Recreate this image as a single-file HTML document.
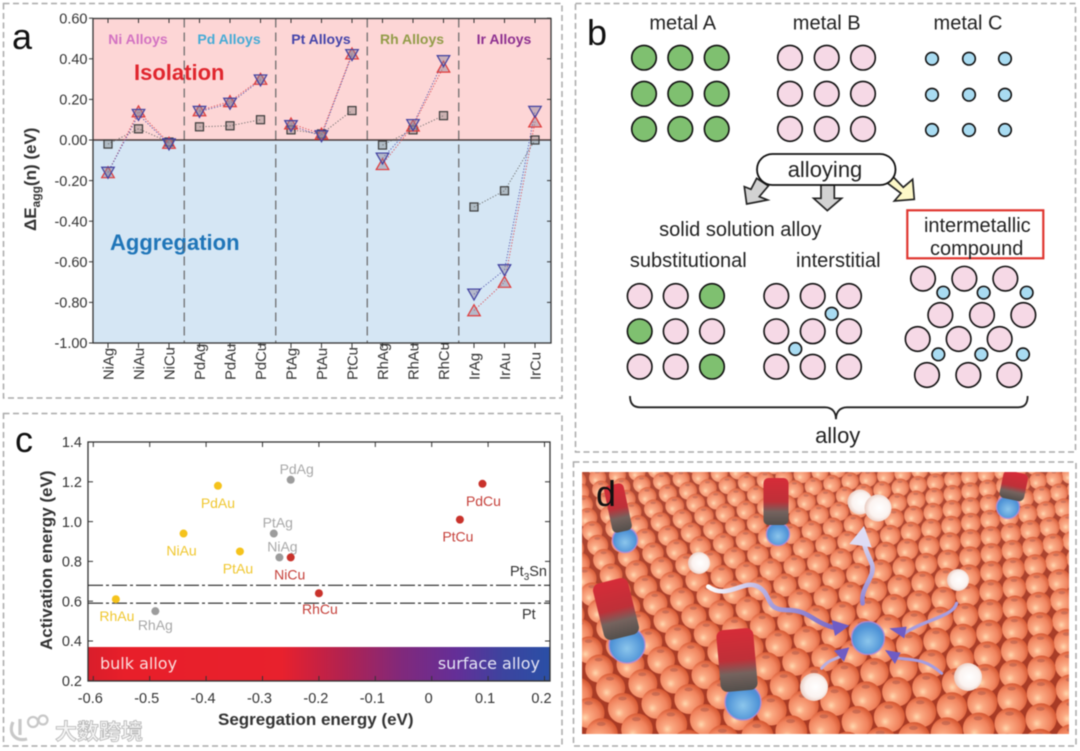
<!DOCTYPE html>
<html lang="en">
<head>
<meta charset="utf-8">
<title>Alloy figure</title>
<style>
html,body{margin:0;padding:0;background:#fff;width:1080px;height:751px;overflow:hidden;}
svg{display:block;font-family:"Liberation Sans","Noto Sans CJK SC",sans-serif;filter:blur(0.55px);}
</style>
</head>
<body>
<svg id="fig" xmlns="http://www.w3.org/2000/svg" width="1080" height="751" viewBox="0 0 1080 751">
<defs>
<linearGradient id="barGrad" x1="0" x2="1" y1="0" y2="0">
<stop offset="0" stop-color="#d91e2b"/><stop offset="0.08" stop-color="#e81f2a"/><stop offset="0.42" stop-color="#e8212d"/><stop offset="0.55" stop-color="#b3224f"/><stop offset="0.68" stop-color="#80297c"/><stop offset="0.8" stop-color="#632f98"/><stop offset="0.9" stop-color="#3c449f"/><stop offset="1" stop-color="#2a4fa6"/>
</linearGradient>
<radialGradient id="atom" cx="0.42" cy="0.6" r="0.62" fx="0.36" fy="0.66">
<stop offset="0" stop-color="#ffd8ae"/><stop offset="0.25" stop-color="#fba982"/><stop offset="0.7" stop-color="#f0825c"/><stop offset="1" stop-color="#d4552f"/>
</radialGradient>
<linearGradient id="paleOverlay" x1="0" x2="0" y1="0" y2="1">
<stop offset="0" stop-color="#fff" stop-opacity="0.08"/><stop offset="0.6" stop-color="#fff" stop-opacity="0.02"/><stop offset="1" stop-color="#fff" stop-opacity="0"/>
</linearGradient>
<radialGradient id="blueAtom" cx="0.5" cy="0.6" r="0.6">
<stop offset="0" stop-color="#8cc6ec"/><stop offset="0.75" stop-color="#4f93d6"/><stop offset="1" stop-color="#5f84cc"/>
</radialGradient>
<radialGradient id="whiteAtom" cx="0.55" cy="0.5" r="0.6">
<stop offset="0" stop-color="#ffffff"/><stop offset="0.6" stop-color="#fbf3f0"/><stop offset="1" stop-color="#e4c0b4"/>
</radialGradient>
<linearGradient id="cyl" x1="0" x2="0" y1="0" y2="1">
<stop offset="0" stop-color="#d62c38"/><stop offset="0.5" stop-color="#bf3038"/><stop offset="0.72" stop-color="#75635e"/><stop offset="1" stop-color="#544f4b"/>
</linearGradient>
<linearGradient id="flowA" gradientUnits="userSpaceOnUse" x1="415" y1="380" x2="830" y2="500">
<stop offset="0" stop-color="#ffffff"/><stop offset="0.45" stop-color="#a9a0dc"/><stop offset="1" stop-color="#6f5fc4"/>
</linearGradient>
<linearGradient id="flowB" gradientUnits="userSpaceOnUse" x1="880" y1="430" x2="880" y2="210">
<stop offset="0" stop-color="#8f84d4"/><stop offset="1" stop-color="#e6e6f6"/>
</linearGradient>
<clipPath id="dClip"><rect x="582" y="472" width="487" height="262"/></clipPath>
</defs>
<rect width="1080" height="751" fill="#fff"/>

<rect x="3.5" y="3.5" width="558.5" height="394.5" fill="none" stroke="#aaa" stroke-width="1.5" stroke-dasharray="6 3.5"/>
<rect x="3.5" y="413.5" width="558.5" height="332.5" fill="none" stroke="#aaa" stroke-width="1.5" stroke-dasharray="6 3.5"/>
<rect x="575.5" y="3.5" width="500" height="448.5" fill="none" stroke="#aaa" stroke-width="1.5" stroke-dasharray="6 3.5"/>
<rect x="573.5" y="462" width="502.5" height="284" fill="none" stroke="#aaa" stroke-width="1.5" stroke-dasharray="6 3.5"/>

<!-- Panel a -->
<g id="panelA">
<rect x="93" y="18.5" width="458" height="121.5" fill="#fdd6d6"/>
<rect x="93" y="140" width="458" height="203" fill="#d5e6f4"/>
<text x="134" y="80" font-size="22" font-weight="bold" fill="#e0262e">Isolation</text>
<text x="110" y="250" font-size="22" font-weight="bold" fill="#1f75b8">Aggregation</text>
<text x="138" y="44" font-size="14" font-weight="bold" fill="#d272c2" text-anchor="middle">Ni Alloys</text>
<text x="229" y="44" font-size="14" font-weight="bold" fill="#45abd6" text-anchor="middle">Pd Alloys</text>
<text x="321" y="44" font-size="14" font-weight="bold" fill="#4444aa" text-anchor="middle">Pt Alloys</text>
<text x="412" y="44" font-size="14" font-weight="bold" fill="#929c48" text-anchor="middle">Rh Alloys</text>
<text x="504" y="44" font-size="14" font-weight="bold" fill="#8d3090" text-anchor="middle">Ir Alloys</text>
<text x="12" y="49" font-size="36" fill="#111">a</text>
<text transform="translate(36 231) rotate(-90)" font-size="17" font-weight="bold" fill="#333">ΔE<tspan font-size="12" dy="4">agg</tspan><tspan dy="-4">(n) (eV)</tspan></text>
</g>

<!-- Panel c -->
<g id="panelC">
<rect x="88" y="647" width="462" height="34" fill="url(#barGrad)"/>
<text x="100" y="669" font-size="16" fill="#fbdcdc" style="font-family:'DejaVu Sans',sans-serif">bulk alloy</text>
<text x="540" y="669" font-size="16" text-anchor="end" fill="#e4e4f4" style="font-family:'DejaVu Sans',sans-serif">surface alloy</text>
<text x="15" y="452" font-size="36" fill="#111">c</text>
<text transform="translate(52 650) rotate(-90)" font-size="17" font-weight="bold" fill="#333">Activation energy (eV)</text>
<text x="218" y="725" font-size="17" font-weight="bold" fill="#333">Segregation energy (eV)</text>
<text x="510" y="576" font-size="14.5" fill="#333">Pt<tspan font-size="10" dy="4">3</tspan><tspan dy="-4">Sn</tspan></text>
<text x="522" y="619" font-size="14.5" fill="#333">Pt</text>
</g>

<!-- Panel b -->
<g id="panelB" fill="#222">
<text x="587" y="45" font-size="36" fill="#111">b</text>
<text x="682.7" y="29.5" font-size="20" text-anchor="middle">metal A</text>
<text x="826.7" y="29.5" font-size="20" text-anchor="middle">metal B</text>
<text x="968" y="29.5" font-size="20" text-anchor="middle">metal C</text>
<g transform="translate(575 0) scale(0.3333)" stroke="#222" stroke-width="5" stroke-linejoin="miter">
<polygon points="545,535 580,558 553,590 578,600 515,612 508,560 528,568" fill="#d2d2d2"/>
<polygon points="738,555 778,555 778,595 800,595 757,632 716,595 738,595" fill="#d2d2d2"/>
<polygon points="952,528 985,562 1013,538 1018,598 958,603 978,580 938,550" fill="#fdf8c8"/>
<path d="M165,1188 C165,1210 175,1222 195,1222 L750,1222 C770,1222 783,1235 783,1258 C783,1235 796,1222 816,1222 L1330,1222 C1350,1222 1358,1210 1358,1188" fill="none" stroke="#222" stroke-width="5.5"/>
</g>
<rect x="757" y="154" width="138.5" height="31" rx="15.5" fill="#fff" stroke="#111" stroke-width="1.8"/>
<text x="825" y="177" font-size="22" text-anchor="middle">alloying</text>
<text x="740.3" y="236" font-size="20" text-anchor="middle">solid solution alloy</text>
<text x="688.3" y="267" font-size="20" text-anchor="middle">substitutional</text>
<text x="838.3" y="267" font-size="20" text-anchor="middle">interstitial</text>
<rect x="907.3" y="210.3" width="136" height="48" fill="none" stroke="#e0352f" stroke-width="2.2"/>
<text x="977.3" y="232" font-size="20" text-anchor="middle">intermetallic</text>
<text x="976.7" y="255" font-size="20" text-anchor="middle">compound</text>
<text x="837.7" y="443" font-size="22" text-anchor="middle">alloy</text>
</g>

<!-- Panel d -->
<g clip-path="url(#dClip)">
<rect x="582" y="472" width="487" height="262" fill="#a83a24"/>
<g id="atoms"></g>
<rect x="582" y="472" width="487" height="262" fill="url(#paleOverlay)"/>
<g stroke="#b48ad8" stroke-opacity="0.8" stroke-width="1.5">
<circle cx="625" cy="540" r="12.5" fill="url(#blueAtom)"/>
<circle cx="778" cy="534" r="11.5" fill="url(#blueAtom)"/>
<circle cx="1008" cy="507" r="11.5" fill="url(#blueAtom)"/>
<circle cx="627" cy="645" r="18" fill="url(#blueAtom)"/>
<circle cx="743" cy="702" r="18" fill="url(#blueAtom)"/>
<circle cx="868" cy="638" r="16.5" fill="url(#blueAtom)"/>
</g>
<g>
<rect x="608" y="484" width="20" height="48" rx="5" fill="url(#cyl)" transform="rotate(-12 618 508)"/>
<rect x="763.5" y="478" width="25" height="47" rx="5" fill="url(#cyl)"/>
<rect x="1002.5" y="472" width="25" height="28" rx="5" fill="url(#cyl)" transform="rotate(12 1015 480)"/>
<rect x="598" y="580" width="36" height="58" rx="7" fill="url(#cyl)" transform="rotate(-14 616 609)"/>
<rect x="718.5" y="629" width="37" height="62" rx="7" fill="url(#cyl)" transform="rotate(-5 737 660)"/>
</g>
<g>
<circle cx="699" cy="563" r="11" fill="url(#whiteAtom)"/>
<circle cx="860" cy="502" r="12.5" fill="url(#whiteAtom)"/>
<circle cx="878" cy="508" r="13.5" fill="url(#whiteAtom)"/>
<circle cx="958" cy="580" r="11" fill="url(#whiteAtom)"/>
<circle cx="968" cy="677" r="14" fill="url(#whiteAtom)"/>
<circle cx="814" cy="687" r="14" fill="url(#whiteAtom)"/>
</g>
<g transform="translate(570 460) scale(0.3333)" fill="none" stroke-linecap="round">
<path d="M415,380 C470,420 520,360 560,378 C610,400 580,450 650,450 C720,450 730,490 800,505" stroke="url(#flowA)" stroke-width="14"/>
<polygon points="838,497 785,480 795,528" fill="#6f5cc4"/>
<path d="M878,430 C870,380 920,350 905,310 C895,285 885,270 880,240" stroke="url(#flowB)" stroke-width="14"/>
<polygon points="882,198 838,252 905,262" fill="#dedcf4"/>
<path d="M1160,430 C1150,470 1060,480 1000,522" stroke="#a79ddf" stroke-width="10"/>
<polygon points="958,505 1010,500 1003,535" fill="#6f5cc4"/>
<path d="M1115,640 C1070,600 1040,600 985,595" stroke="#a79ddf" stroke-width="9"/>
<polygon points="945,570 992,578 975,612" fill="#6f5cc4"/>
<path d="M755,625 C775,600 790,600 810,590" stroke="#b7aee0" stroke-width="9"/>
<polygon points="838,562 792,572 822,605" fill="#6f5cc4"/>
</g>
<text x="596" y="506" font-size="36" fill="#111">d</text>
</g>

<!-- Watermark -->
<g>
<g fill="none" stroke="#c8c8c8" stroke-width="3.2">
<path d="M13,722 C8,733 15,742 27,739 M20,719 L20,735"/>
<circle cx="33" cy="722" r="5" stroke-width="2.2"/>
<circle cx="43" cy="720" r="4.5" stroke-width="2.2"/>
</g>
<text x="55" y="739.5" font-size="22" font-weight="bold" fill="#f4f4f4" stroke="#b5b5b5" stroke-width="0.8">大数跨境</text>
</g>
</svg>

<script>
// ---------- Panel a data ----------
const alloyCategories = ['NiAg','NiAu','NiCu','PdAg','PdAu','PdCu','PtAg','PtAu','PtCu','RhAg','RhAu','RhCu','IrAg','IrAu','IrCu'];
const squareValues   = [-0.02,0.055,-0.01, 0.065,0.07,0.10, 0.05,0.03,0.145, -0.025,0.05,0.12, -0.33,-0.25,0.00];
const upTriValues    = [-0.16,0.14,-0.015, 0.145,0.19,0.30, 0.08,0.03,0.425, -0.12,0.07,0.36, -0.84,-0.70,0.09];
const downTriValues  = [-0.16,0.125,-0.02, 0.14,0.18,0.295, 0.07,0.02,0.42, -0.09,0.075,0.39, -0.76,-0.64,0.14];
const yTickLabelsA   = ['0.60','0.40','0.20','0.00','-0.20','-0.40','-0.60','-0.80','-1.00'];

// ---------- Panel c data ----------
const scatterNames = ['PdAu','NiAu','PtAu','RhAu','RhAg','PdAg','PtAg','NiAg','NiCu','RhCu','PdCu','PtCu'];
const scatterSeg   = [-0.379,-0.44,-0.34,-0.56,-0.49,-0.25,-0.28,-0.27,-0.25,-0.20,0.09,0.05];
const scatterAct   = [1.18,0.94,0.85,0.61,0.55,1.21,0.94,0.82,0.82,0.64,1.19,1.01];
const xTickLabelsC = ['-0.6','-0.5','-0.4','-0.3','-0.2','-0.1','0','0.1','0.2'];
const yTickLabelsC = ['1.4','1.2','1.0','0.8','0.6','0.4','0.2'];
const referenceLevels = [0.68,0.59];

const NS = 'http://www.w3.org/2000/svg';
function mk(tag, attrs, parent, txt) {
  const el = document.createElementNS(NS, tag);
  for (const k in attrs) el.setAttribute(k, attrs[k]);
  if (txt !== undefined) el.textContent = txt;
  parent.appendChild(el);
  return el;
}

// ---------- Panel d atoms (decorative rotated lattice in perspective) ----------
(function () {
  const host = document.getElementById('atoms');
  const theta = 10 * Math.PI / 180, cos = Math.cos(theta), sin = Math.sin(theta);
  const ax = cos, az = -sin;
  const bx = Math.cos(Math.PI / 3 - theta), bz = Math.sin(Math.PI / 3 - theta);
  const pts = [];
  for (let i = -45; i <= 45; i++) {
    for (let j = -30; j <= 30; j++) {
      const X = i * ax + j * bx, Z = i * az + j * bz;
      const sp = 18 * Math.exp(0.0506 * Z);
      const y = 472 + (sp - 18) / 0.061;
      const x = 820 + X * sp;
      const r = sp * 0.47;
      if (y + r < 472 || y - r > 734) continue;
      if (x + r < 582 || x - r > 1069) continue;
      pts.push([x, y, sp, r]);
    }
  }
  pts.sort((a, b) => a[1] - b[1]);
  pts.forEach(function (p) {
    const atom = mk('circle', {cx: p[0], cy: p[1], r: p[3], fill: 'url(#atom)'}, host);
    
    
    const spot = mk('ellipse', {cx: p[0] - p[2] * 0.02, cy: p[1] - p[2] * 0.3, rx: p[2] * 0.13, ry: p[2] * 0.06, fill: '#b8604c', opacity: 0.65}, host);
    
    
  });
})();

// ---------- Panel b atoms ----------
(function () {
  const host = document.getElementById('panelB');
  const G = '#7fc070', P = '#f6d9e6', B = '#a9dcf2';
  function atom(x, y, r, f, name) {
    const c = mk('circle', {cx: x, cy: y, r: r, fill: f, stroke: '#111', 'stroke-width': 1.6}, host);
    
    
  }
  const rowsTop = [57.7, 93.7, 129];
  [644, 680.3, 716.7].forEach(x => rowsTop.forEach(y => atom(x, y, 12.3, G, 'metal-a-atom')));
  [790, 826.7, 863].forEach(x => rowsTop.forEach(y => atom(x, y, 12.3, P, 'metal-b-atom')));
  [932, 969, 1005].forEach(x => rowsTop.forEach(y => atom(x, y + 1, 6.3, B, 'metal-c-atom')));
  const rowsS = [296, 331.3, 366.7];
  [639.7, 675.7, 712].forEach((x, i) => rowsS.forEach((y, j) => {
    const f = (i === 0 && j === 1) || (i === 2 && j !== 1) ? G : P;
    atom(x, y, 12.3, f, 'substitutional-atom');
  }));
  [776.3, 812.7, 849].forEach(x => rowsS.forEach(y => atom(x, y, 12.3, P, 'interstitial-host-atom')));
  atom(831.7, 313.7, 6.3, B, 'interstitial-guest-atom');
  atom(795.3, 349, 6.3, B, 'interstitial-guest-atom');
  [[1044,836],[1168,836],[1291,836],[1096,945],[1221,945],[1345,945],[1028,1017],[1151,1017],[1274,1017],[1056,1125],[1180,1125],[1303,1125]]
    .forEach(p => atom(575 + p[0] / 3, p[1] / 3, 12.3, P, 'intermetallic-host-atom'));
  [[1105,878],[1226,878],[1355,878],[1090,1063],[1219,1063],[1344,1063]]
    .forEach(p => atom(575 + p[0] / 3, p[1] / 3, 6.3, B, 'intermetallic-guest-atom'));
})();

// ---------- Panel a chart ----------
const panelA = document.getElementById('panelA');
function xA(i) { return 108 + 30.5 * i; }
function yA(v) { return 140 - v * 203; }

alloyCategories.forEach(function (c, i) {
  const x = xA(i);
  const t1 = mk('line', {x1: x, x2: x, y1: 343, y2: 348, stroke: '#333', 'stroke-width': 1}, panelA);
  
  
  const t2 = mk('line', {x1: x, x2: x, y1: 18.5, y2: 23, stroke: '#333', 'stroke-width': 1}, panelA);
  
  
  const lab = mk('text', {transform: 'translate(' + (x + 5.5) + ' 380) rotate(-90)', 'font-size': 14.8, fill: '#333'}, panelA, c);
  
  
});
for (let g = 1; g < 5; g++) {
  const sx = xA(3 * g) - 15.25;
  const sep = mk('line', {x1: sx, x2: sx, y1: 18.5, y2: 343, stroke: '#666', 'stroke-width': 1.2, 'stroke-dasharray': '9 5'}, panelA);
  
  
}
yTickLabelsA.forEach(function (s) {
  const y = yA(parseFloat(s));
  const t = mk('line', {x1: 89, x2: 93, y1: y, y2: y, stroke: '#333', 'stroke-width': 1}, panelA);
  
  
  const r = mk('line', {x1: 547, x2: 551, y1: y, y2: y, stroke: '#333', 'stroke-width': 1}, panelA);
  
  
  const lab = mk('text', {x: 87.5, y: y + 5.2, 'font-size': 14.5, fill: '#333', 'text-anchor': 'end'}, panelA, s);
  
  
});
const zeroLine = mk('line', {x1: 93, x2: 551, y1: yA(0), y2: yA(0), stroke: '#4a3a3a', 'stroke-width': 1.4}, panelA);


const frameA = mk('rect', {x: 93, y: 18.5, width: 458, height: 324.5, fill: 'none', stroke: '#333', 'stroke-width': 1.3}, panelA);



function seriesLines(values, color, name) {
  for (let g = 0; g < 5; g++) {
    const pts = [0, 1, 2].map(k => xA(3 * g + k) + ',' + yA(values[3 * g + k])).join(' ');
    const pl = mk('polyline', {points: pts, fill: 'none', stroke: color, 'stroke-width': 0.9, 'stroke-dasharray': '1.2 1.8'}, panelA);
    
    
  }
}
seriesLines(squareValues, '#666', 'square-series-line');
seriesLines(upTriValues, '#d8404a', 'up-triangle-series-line');
seriesLines(downTriValues, '#4a4aa8', 'down-triangle-series-line');

squareValues.forEach(function (v, i) {
  const m = mk('rect', {x: xA(i) - 4, y: yA(v) - 4, width: 8, height: 8, fill: 'rgba(110,110,110,0.35)', stroke: '#3c3c3c', 'stroke-width': 1.2}, panelA);
  
  
});
upTriValues.forEach(function (v, i) {
  const x = xA(i), y = yA(v);
  const m = mk('polygon', {points: (x - 6.3) + ',' + (y + 5.2) + ' ' + (x + 6.3) + ',' + (y + 5.2) + ' ' + x + ',' + (y - 5.8), fill: 'rgba(140,130,150,0.45)', stroke: '#e03a3a', 'stroke-width': 1.2}, panelA);
  
  
});
downTriValues.forEach(function (v, i) {
  const x = xA(i), y = yA(v);
  const m = mk('polygon', {points: (x - 6.3) + ',' + (y - 5.2) + ' ' + (x + 6.3) + ',' + (y - 5.2) + ' ' + x + ',' + (y + 5.8), fill: 'rgba(140,130,150,0.45)', stroke: '#4040a0', 'stroke-width': 1.2}, panelA);
  
  
});

// ---------- Panel c chart ----------
const panelC = document.getElementById('panelC');
function xC(v) { return 431.7 + v * 564; }
function yC(v) { return 680.8 - (v - 0.2) * 199; }

referenceLevels.forEach(function (v) {
  const l = mk('line', {x1: 88, x2: 550, y1: yC(v), y2: yC(v), stroke: '#222', 'stroke-width': 1.1, 'stroke-dasharray': '15 3 3 3'}, panelC);
  
  
});
xTickLabelsC.forEach(function (s) {
  const x = xC(parseFloat(s));
  const t = mk('line', {x1: x, x2: x, y1: 681, y2: 676, stroke: '#333', 'stroke-width': 1}, panelC);
  
  
  const t2 = mk('line', {x1: x, x2: x, y1: 442, y2: 447, stroke: '#333', 'stroke-width': 1}, panelC);
  
  
  const lab = mk('text', {x: x - 3, y: 703, 'font-size': 14.5, fill: '#333', 'text-anchor': 'middle'}, panelC, s);
  
  
});
yTickLabelsC.forEach(function (s) {
  const y = yC(parseFloat(s));
  const t = mk('line', {x1: 88, x2: 93, y1: y, y2: y, stroke: '#333', 'stroke-width': 1}, panelC);
  
  
  const r = mk('line', {x1: 545, x2: 550, y1: y, y2: y, stroke: '#333', 'stroke-width': 1}, panelC);
  
  
  const lab = mk('text', {x: 82, y: y + 5.2, 'font-size': 14.5, fill: '#333', 'text-anchor': 'end'}, panelC, s);
  
  
});
const frameC = mk('rect', {x: 88, y: 442, width: 462, height: 239, fill: 'none', stroke: '#333', 'stroke-width': 1.3}, panelC);



// label placement relative to each point (layout, not data)
const labelNudgeX = {PdAu:0,NiAu:-2,PtAu:-2,RhAu:1,RhAg:0,PdAg:6,PtAg:4,NiAg:3,NiCu:-1,RhCu:1,PdCu:1,PtCu:-2};
const labelNudgeY = {PdAu:22,NiAu:22,PtAu:22,RhAu:22,RhAg:19,PdAg:-6,PtAg:-6,NiAg:-6,NiCu:22,RhCu:21,PdCu:22,PtCu:22};
function scatterColor(n) { return n.endsWith('Au') ? '#f5c31c' : n.endsWith('Ag') ? '#9c9c9c' : '#c9322b'; }
function labelColor(n) { return n.endsWith('Au') ? '#f0c72e' : n.endsWith('Ag') ? '#a8a8a8' : '#c5403a'; }
scatterNames.forEach(function (n, i) {
  const x = xC(scatterSeg[i]), y = yC(scatterAct[i]);
  const p = mk('circle', {cx: x, cy: y, r: 4, fill: scatterColor(n)}, panelC);
  
  
  const lab = mk('text', {x: x + labelNudgeX[n], y: y + labelNudgeY[n], 'font-size': 14, fill: labelColor(n), 'text-anchor': 'middle'}, panelC, n);
  
  
});
</script>
</body>
</html>
